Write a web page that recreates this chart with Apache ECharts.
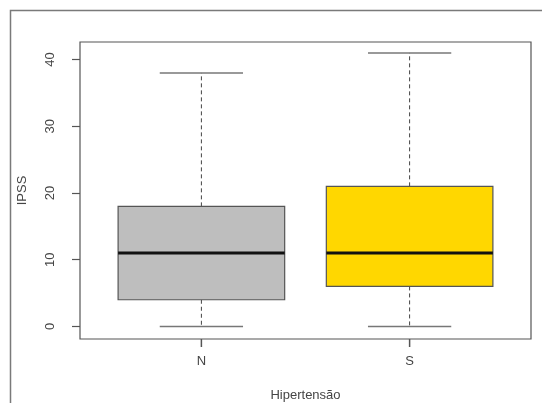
<!DOCTYPE html>
<html>
<head>
<meta charset="utf-8">
<script src="https://cdn.jsdelivr.net/npm/echarts@6/dist/echarts.min.js"></script>
<style>html,body{margin:0;padding:0;background:#fff}#c{width:542px;height:403px}</style>
</head>
<body>
<div id="c"></div>
<script>
var categories = ['N', 'S'];
var whiskerLow = [0, 0];
var q1 = [4, 6];
var median = [11, 11];
var q3 = [18, 21];
var whiskerHigh = [38, 41];
var boxColors = ['#BEBEBE', '#FFD700'];
var yTicks = [0, 10, 20, 30, 40];
var xTicks = [1, 2];
var yMin = -1.88, yMax = 42.63;

var data = categories.map(function (c, i) {
  return [i + 1, whiskerLow[i], q1[i], median[i], q3[i], whiskerHigh[i], i];
});

var chart = echarts.init(document.getElementById('c'));
var textColor = '#454545';
var font = 'Liberation Sans, Arial, sans-serif';

chart.setOption({
  animation: false,
  backgroundColor: '#fff',
  graphic: [{
    type: 'polyline', shape: { points: [[10.5, 403], [10.5, 10.5], [542, 10.5]] },
    style: { fill: null, stroke: '#7a7a7a', lineWidth: 1.5 }, z: 0, silent: true
  }],
  grid: { left: 80, top: 42, right: 11, bottom: 64, show: true, borderColor: '#555', borderWidth: 1.2,
    backgroundColor: 'transparent', containLabel: false, outerBoundsMode: 'none' },
  xAxis: {
    type: 'value', min: 0.417, max: 2.583,
    name: 'Hipertensão', nameLocation: 'middle', nameGap: 50,
    nameTextStyle: { color: textColor, fontSize: 13, fontFamily: font },
    axisLine: { show: false, onZero: false },
    splitLine: { show: false },
    axisTick: { show: false },
    axisLabel: {
      color: textColor, fontSize: 13, fontFamily: font, margin: 16,
      customValues: xTicks,
      formatter: function (v) { return categories[Math.round(v) - 1] || ''; }
    }
  },
  yAxis: {
    type: 'value', min: yMin, max: yMax,
    name: 'IPSS', nameLocation: 'middle', nameGap: 51, nameRotate: 90,
    nameTextStyle: { color: textColor, fontSize: 13, fontFamily: font },
    axisLine: { show: false, onZero: false },
    splitLine: { show: false },
    axisTick: { show: true, length: 8, lineStyle: { color: '#555', width: 1.2 }, customValues: yTicks },
    axisLabel: {
      color: textColor, fontSize: 13, fontFamily: font, rotate: 90, margin: 23,
      customValues: yTicks,
      formatter: function (v) { return String(v); }
    }
  },
  series: [{
    type: 'custom',
    clip: false,
    z: 10,
    data: data,
    encode: { x: 0, y: [1, 2, 3, 4, 5] },
    renderItem: function (params, api) {
      var x = api.value(0);
      var idx = api.value(6);
      var halfBox = 0.4, halfCap = 0.2;
      function p(dx, y) { return api.coord([x + dx, y]); }
      var lo = api.value(1), a = api.value(2), m = api.value(3), b = api.value(4), hi = api.value(5);
      var bl = p(-halfBox, a), tr = p(halfBox, b);
      var axisPt = p(0, yMin);
      var dash = { stroke: '#444', lineWidth: 1, lineDash: [4, 3], fill: null };
      var cap = { stroke: '#777', lineWidth: 1.5 };
      return {
        type: 'group',
        children: [
          { type: 'line', shape: { x1: axisPt[0], y1: axisPt[1], x2: axisPt[0], y2: axisPt[1] + 8 }, style: { stroke: '#555', lineWidth: 1.5 } },
          { type: 'line', shape: { x1: p(0, b)[0], y1: p(0, b)[1], x2: p(0, hi)[0], y2: p(0, hi)[1] }, style: dash },
          { type: 'line', shape: { x1: p(0, a)[0], y1: p(0, a)[1], x2: p(0, lo)[0], y2: p(0, lo)[1] }, style: dash },
          { type: 'line', shape: { x1: p(-halfCap, hi)[0], y1: p(-halfCap, hi)[1], x2: p(halfCap, hi)[0], y2: p(halfCap, hi)[1] }, style: cap },
          { type: 'line', shape: { x1: p(-halfCap, lo)[0], y1: p(-halfCap, lo)[1], x2: p(halfCap, lo)[0], y2: p(halfCap, lo)[1] }, style: cap },
          { type: 'rect', shape: { x: bl[0], y: tr[1], width: tr[0] - bl[0], height: bl[1] - tr[1] },
            style: { fill: boxColors[idx], stroke: '#555', lineWidth: 1.2 } },
          { type: 'line', shape: { x1: p(-halfBox, m)[0], y1: p(-halfBox, m)[1], x2: p(halfBox, m)[0], y2: p(halfBox, m)[1] },
            style: { stroke: '#111', lineWidth: 3 } }
        ]
      };
    }
  }]
});
</script>
</body>
</html>
